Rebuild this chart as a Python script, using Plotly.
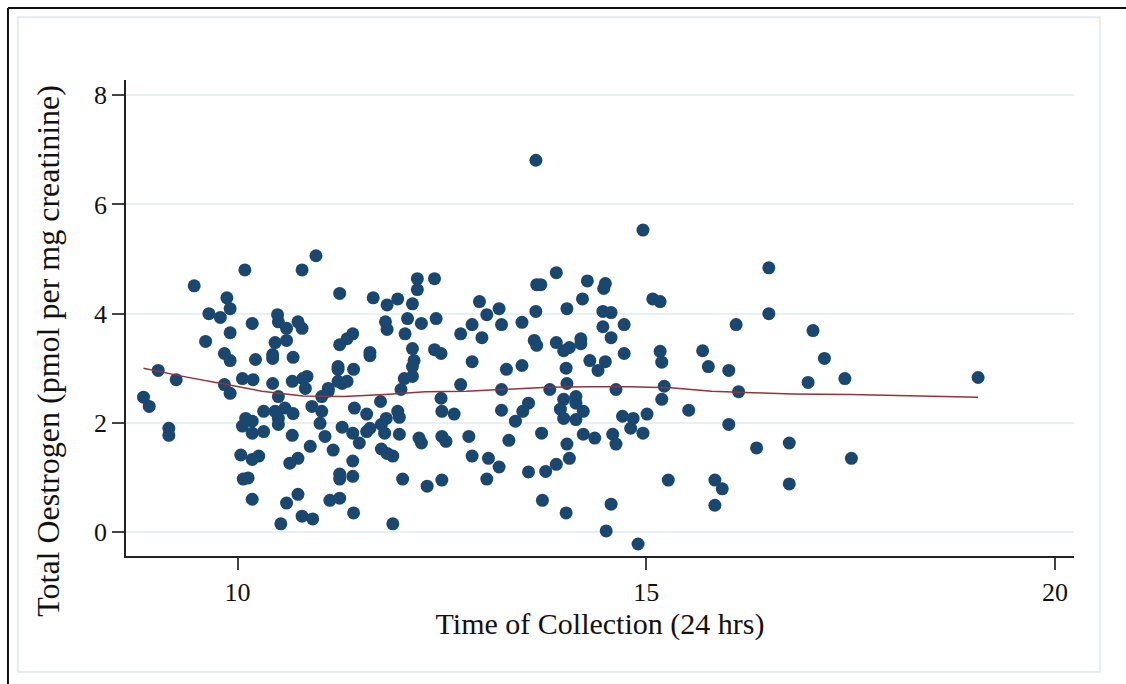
import plotly.graph_objects as go

# collection time (24 h clock) and total oestrogen (pmol per mg creatinine)
time_hrs = [
    10.09, 10.79, 9.47, 9.87, 9.91, 9.65, 9.79, 10.18, 10.49, 10.50, 10.60, 10.74, 10.79, 9.91, 9.61,
    10.60, 10.46, 9.84, 9.91, 10.22, 10.43, 10.43, 10.68, 9.03, 9.25, 9.84, 10.06, 10.19, 10.43, 10.67,
    10.80, 9.91, 8.85, 8.92, 10.50, 10.32, 10.46, 10.58, 10.68, 10.10, 10.06, 10.18, 10.18, 10.32, 10.50,
    10.50, 10.67, 9.16, 9.16, 10.04, 10.18, 10.26, 10.64, 10.74, 10.07, 10.13, 10.18, 10.74, 10.60, 10.79,
    10.53, 10.96, 11.25, 11.66, 11.83, 11.96, 12.14, 12.20, 12.20, 12.41, 11.81, 11.83, 12.08, 12.25, 12.43,
    12.05, 12.73, 12.87, 11.41, 11.34, 11.25, 11.62, 11.62, 12.14, 12.41, 12.49, 12.16, 12.14, 11.23, 11.23,
    11.42, 10.85, 11.23, 11.34, 12.04, 12.14, 12.73, 12.87, 11.11, 12.00, 10.83, 11.11, 11.28, 11.03, 10.91,
    11.03, 11.01, 11.07, 11.28, 11.43, 11.58, 11.75, 11.96, 11.98, 11.82, 11.76, 11.62, 11.58, 11.41, 11.49,
    11.80, 11.98, 12.22, 12.25, 12.50, 12.55, 12.49, 12.50, 12.65, 12.83, 12.87, 10.89, 11.17, 11.76, 11.83,
    11.90, 11.41, 11.25, 11.25, 11.41, 12.02, 12.32, 12.50, 11.13, 11.25, 10.92, 11.42, 11.90, 13.65, 14.96,
    13.90, 13.66, 13.71, 14.28, 14.50, 14.48, 12.96, 13.20, 13.05, 13.65, 14.03, 14.22, 14.47, 14.57, 12.99,
    13.23, 13.48, 13.63, 13.66, 13.90, 13.99, 14.06, 14.20, 14.20, 14.47, 14.57, 14.73, 14.73, 13.29, 13.48,
    14.02, 14.31, 14.41, 14.50, 13.23, 14.03, 13.82, 14.63, 13.99, 14.14, 14.14, 13.95, 13.99, 14.23, 14.14,
    13.56, 13.49, 13.23, 13.40, 13.32, 13.72, 14.03, 14.23, 14.37, 14.59, 14.63, 14.71, 14.84, 14.81, 14.96,
    13.07, 13.20, 13.05, 13.56, 13.77, 13.90, 14.06, 13.73, 14.02, 14.57, 14.51, 14.90, 16.50, 15.08, 15.17,
    16.50, 16.10, 17.04, 15.17, 15.19, 15.69, 15.76, 16.01, 16.98, 15.22, 16.13, 15.19, 15.01, 15.52, 16.01,
    16.35, 16.75, 15.27, 15.84, 15.93, 15.84, 16.75, 17.18, 17.43, 19.06, 17.51,
]
oestrogen = [
    4.80, 4.80, 4.51, 4.29, 4.09, 4.00, 3.93, 3.82, 3.98, 3.85, 3.73, 3.85, 3.73, 3.65, 3.49,
    3.51, 3.47, 3.27, 3.14, 3.16, 3.25, 3.18, 3.20, 2.96, 2.79, 2.70, 2.81, 2.79, 2.72, 2.76,
    2.81, 2.54, 2.47, 2.30, 2.48, 2.21, 2.21, 2.27, 2.17, 2.08, 1.94, 2.03, 1.81, 1.84, 1.97,
    2.08, 1.77, 1.90, 1.77, 1.41, 1.33, 1.39, 1.26, 1.35, 0.97, 0.99, 0.60, 0.69, 0.53, 0.29,
    0.15, 5.06, 4.37, 4.29, 4.16, 4.27, 4.18, 4.64, 4.44, 4.64, 3.85, 3.71, 3.91, 3.82, 3.91,
    3.63, 3.63, 3.80, 3.63, 3.54, 3.43, 3.29, 3.23, 3.36, 3.34, 3.27, 3.14, 3.03, 3.03, 2.98,
    2.98, 2.85, 2.76, 2.76, 2.81, 2.85, 2.70, 3.12, 2.63, 2.61, 2.63, 2.58, 2.72, 2.48, 2.30,
    2.21, 1.99, 1.75, 1.92, 2.27, 2.16, 2.39, 2.21, 2.10, 2.08, 1.97, 1.90, 1.84, 1.81, 1.63,
    1.81, 1.79, 1.72, 1.63, 1.75, 1.66, 2.45, 2.21, 2.16, 1.75, 1.39, 1.57, 1.50, 1.52, 1.44,
    1.39, 1.30, 1.06, 0.97, 1.02, 0.97, 0.84, 0.95, 0.58, 0.62, 0.24, 0.35, 0.15, 6.81, 5.53,
    4.75, 4.53, 4.53, 4.60, 4.55, 4.46, 4.22, 4.09, 3.98, 4.04, 4.09, 4.27, 4.04, 4.02, 3.56,
    3.80, 3.84, 3.51, 3.42, 3.47, 3.32, 3.38, 3.54, 3.45, 3.76, 3.56, 3.80, 3.27, 2.98, 3.05,
    3.00, 3.14, 2.96, 3.12, 2.61, 2.72, 2.61, 2.61, 2.43, 2.48, 2.36, 2.25, 2.08, 2.21, 2.06,
    2.36, 2.21, 2.23, 2.03, 1.68, 1.81, 1.61, 1.79, 1.72, 1.79, 1.61, 2.12, 2.08, 1.90, 1.81,
    1.35, 1.19, 0.97, 1.10, 1.11, 1.24, 1.35, 0.58, 0.35, 0.51, 0.02, -0.22, 4.84, 4.27, 4.22,
    4.00, 3.80, 3.69, 3.31, 3.11, 3.32, 3.03, 2.96, 2.74, 2.67, 2.57, 2.43, 2.16, 2.23, 1.97,
    1.54, 1.63, 0.95, 0.95, 0.79, 0.49, 0.88, 3.18, 2.81, 2.83, 1.35,
]

# lowess smooth
smooth_x = [8.85, 9.3, 9.8, 10.3, 10.8, 11.3, 11.8, 12.3, 12.8, 13.3, 13.8, 14.3, 14.8, 15.3,
            15.8, 16.3, 16.8, 17.5, 18.3, 19.06]
smooth_y = [3.00, 2.86, 2.72, 2.58, 2.49, 2.48, 2.52, 2.57, 2.58, 2.62, 2.65, 2.66, 2.66, 2.64,
            2.58, 2.55, 2.53, 2.52, 2.50, 2.47]

y_ticks = [0, 2, 4, 6, 8]
x_ticks = [10, 15, 20]

font_family = "Liberation Serif, Times New Roman, serif"
text_color = "#111111"

fig = go.Figure()
fig.add_trace(go.Scatter(
    x=time_hrs, y=oestrogen, mode="markers",
    marker=dict(color="#1a476f", size=13, line=dict(width=0)),
    showlegend=False, hoverinfo="x+y",
))
fig.add_trace(go.Scatter(
    x=smooth_x, y=smooth_y, mode="lines",
    line=dict(color="#90353b", width=1.5),
    showlegend=False,
))

# outer black border: only its left and top edges are on the page
edge = dict(color="#111111", width=2)
fig.add_shape(type="line", xref="paper", yref="paper",
              x0=-0.1245, x1=-0.1245, y0=-0.32, y1=1.151, line=edge, layer="below")
fig.add_shape(type="line", xref="paper", yref="paper",
              x0=-0.1245, x1=1.12, y0=1.151, y1=1.151, line=edge, layer="below")
# faint inner frame
fig.add_shape(type="rect", xref="paper", yref="paper",
              x0=-0.1139, x1=1.0274, y0=-0.2437, y1=1.132,
              line=dict(color="#e3edf1", width=2), layer="below")

# y title sits a little below the plot centre in the original, so place it by hand
fig.add_annotation(
    text="Total Oestrogen (pmol per mg creatinine)", textangle=-90,
    xref="paper", yref="paper", x=-0.0823, y=0.431, showarrow=False,
    xanchor="center", yanchor="middle", font=dict(size=32),
)

fig.update_layout(
    width=1126, height=684,
    margin=dict(l=126, r=52, t=80, b=128),
    paper_bgcolor="white", plot_bgcolor="white",
    font=dict(family=font_family, color=text_color, size=26),
    xaxis=dict(
        range=[8.636, 20.233], tickvals=x_ticks, ticks="outside", ticklen=12,
        tickcolor="#444444", tickwidth=1.5, showgrid=False, zeroline=False,
        showline=True, linecolor="#222222", linewidth=1.5,
        title=dict(text="Time of Collection (24 hrs)", standoff=4, font=dict(size=30)),
        tickfont=dict(size=26),
    ),
    yaxis=dict(
        range=[-0.44, 8.28], tickvals=y_ticks, ticks="outside", ticklen=12,
        tickcolor="#444444", tickwidth=1.5, showgrid=True, gridcolor="#e8f0f2", gridwidth=1.5,
        zeroline=False, showline=True, linecolor="#222222", linewidth=1.5,
        tickfont=dict(size=26),
    ),
)

# drop the page margin and scrollbars so the figure fills the window exactly
fig.write_html("out.html", config={"displayModeBar": False},
               post_script="document.body.style.margin='0';document.body.style.overflow='hidden';")
